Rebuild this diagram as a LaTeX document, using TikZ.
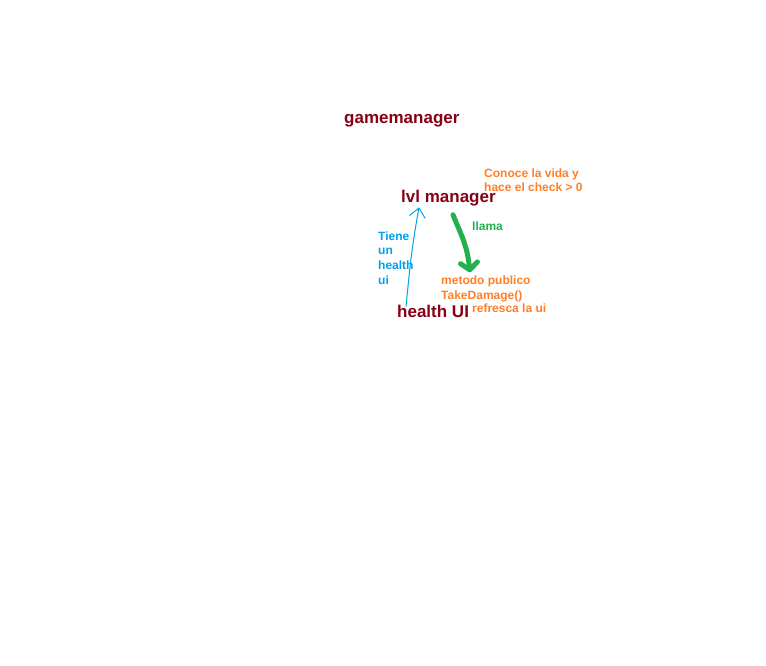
\documentclass[tikz,border=0pt]{standalone}
\usepackage{fontspec}
\setmainfont{Liberation Sans}
\usetikzlibrary{arrows.meta,calc}
\definecolor{paintred}{RGB}{136,0,21}
\definecolor{paintorange}{RGB}{255,127,39}
\definecolor{paintgreen}{RGB}{34,177,76}
\definecolor{paintblue}{RGB}{0,162,232}
\begin{document}
\begin{tikzpicture}[
    x=1pt, y=-1pt,
    title/.style={anchor=base west, inner sep=0pt, text=paintred, font=\fontsize{17}{20}\selectfont\bfseries},
    note/.style={anchor=north west, inner sep=0pt, align=left, font=\fontsize{12}{14.7}\selectfont\bfseries},
    single/.style={anchor=base west, inner sep=0pt, font=\fontsize{12}{14.7}\selectfont\bfseries},
    calls/.style={draw=paintgreen, line width=5pt, line cap=round, -{Straight Barb[length=7pt,width=17pt,round]}},
    owns/.style={draw=paintblue, line width=1pt, -{Straight Barb[length=9pt,width=16pt]}}
]
\useasboundingbox[fill=white] (0,0) rectangle (766,666);

\node[title] (gm) at (344,124) {gamemanager};
\node[title] (lvl) at (401,202) {lvl manager};
\node[title] (hui) at (397,317) {health UI};

\node[note, text=paintorange] (vida) at (484,168.3) {Conoce la vida y\\hace el check > 0};
\node[single, text=paintgreen] (llama) at (472,230) {llama};
\node[note, text=paintorange, font=\fontsize{12}{15}\selectfont\bfseries] (metodo) at (441,275.3) {metodo publico\\TakeDamage()};
\node[single, text=paintorange] (refresca) at (472,312) {refresca la ui};
\node[note, text=paintblue] (tiene) at (378,231.4) {Tiene\\un\\health\\ui};

\coordinate (b0) at ($(hui.north west)+(9,2)$);
\coordinate (b1) at ($(lvl.south west)+(18,1.5)$);
\coordinate (g0) at ($(lvl.south west)+(52,9)$);
\coordinate (g1) at ($(metodo.north west)+(29,-3)$);

\draw[calls] (g0) .. controls ($(g0)+(8,20)$) and ($(g1)+(-3,-28)$) .. (g1);
\draw[owns] (b0) .. controls ($(b0)+(4,-40)$) and ($(b1)+(-8,45)$) .. (b1);
\end{tikzpicture}
\end{document}
